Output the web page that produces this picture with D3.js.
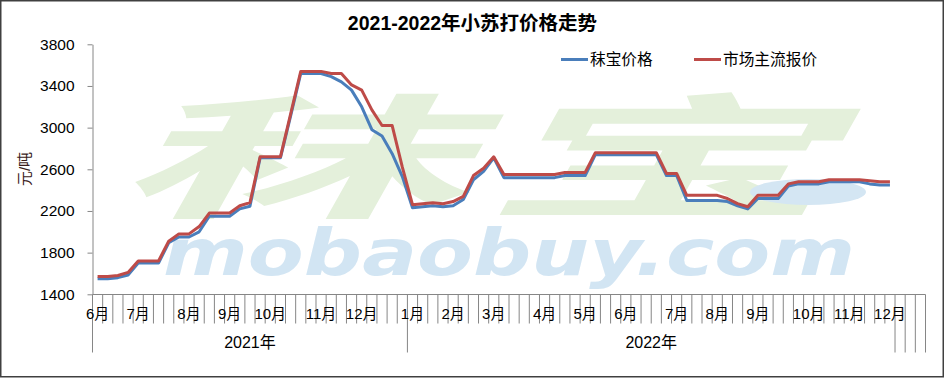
<!DOCTYPE html>
<html>
<head>
<meta charset="utf-8">
<script src="https://cdn.jsdelivr.net/npm/d3@7"></script>
<style>
	body { margin: 0; background: #fff; }
	svg text { font-family: "Liberation Sans", Arial, "Noto Sans CJK SC", sans-serif; }
</style>
</head>
<body>
<svg id="chart" width="946" height="378"></svg>
<script>
// Chart data
const chartTitle = '2021-2022年小苏打价格走势';
const yTitle = '元/吨';
const seriesNames = ['秣宝价格', '市场主流报价'];
const years = ['2021年', '2022年'];
const months2021 = ['6月', '7月', '8月', '9月', '10月', '11月', '12月'];
const weeks2021 = [4, 5, 4, 4, 5, 4, 5];
const months2022 = ['1月', '2月', '3月', '4月', '5月', '6月', '7月', '8月', '9月', '10月', '11月', '12月'];
const weeks2022 = [4, 4, 5, 4, 4, 5, 4, 4, 5, 4, 4, 1];
const blankSlots = 3;
const yTicks = [1400, 1800, 2200, 2600, 3000, 3400, 3800];

const mobaoPrice = [
	1550, 1550, 1560, 1585, 1700, 1700, 1700, 1895, 1950, 1950, 2000, 2150, 2150, 2150, 2220, 2245,
	2710, 2710, 2710, 3110, 3520, 3520, 3520, 3490, 3440, 3360, 3200, 2980, 2920, 2750, 2530,
	2230, 2240, 2250, 2240, 2250, 2310, 2500, 2580, 2710, 2520, 2520, 2520, 2520, 2520, 2520,
	2540, 2540, 2540, 2740, 2740, 2740, 2740, 2740, 2740, 2740, 2540, 2540, 2300, 2300, 2300, 2300,
	2290, 2250, 2220, 2320, 2320, 2320, 2440, 2460, 2460, 2460, 2480, 2480, 2480, 2480, 2460, 2450, 2450
];
const marketPrice = [
	1570, 1570, 1580, 1610, 1720, 1720, 1720, 1910, 1980, 1980, 2050, 2180, 2180, 2180, 2250, 2280,
	2720, 2720, 2720, 3130, 3540, 3540, 3540, 3520, 3520, 3410, 3360, 3170, 3020, 3020, 2620,
	2260, 2270, 2280, 2270, 2290, 2340, 2540, 2610, 2720, 2550, 2550, 2550, 2550, 2550, 2550,
	2570, 2570, 2570, 2760, 2760, 2760, 2760, 2760, 2760, 2760, 2560, 2560, 2350, 2350, 2350, 2350,
	2320, 2270, 2240, 2350, 2350, 2350, 2460, 2480, 2480, 2480, 2500, 2500, 2500, 2500, 2490, 2480, 2480
];

// Build the category list (one slot per week)
const categories = [];
const addYear = function(yearIndex, months, weeks) {
	months.forEach((m, mi) => {
		for (let w = 0; w < weeks[mi]; w++) {
			categories.push({ 'year': yearIndex, 'label': w === 0 ? m : '' });
		}
	});
};
addYear(0, months2021, weeks2021);
addYear(1, months2022, weeks2022);
for (let i = 0; i < blankSlots; i++) {
	categories.push({ 'year': null, 'label': '' });
}

const svg = d3.select('#chart');
const axisColor = '#868686';

// Scales
const x = d3.scaleBand()
	.domain(d3.range(categories.length))
	.range([92.5, 925.5])
	.padding(0);
const y = d3.scaleLinear()
	.domain([1400, 3800])
	.range([294.3, 44.3]);
const cx = i => x(i) + x.bandwidth() / 2;

// Watermark
const wm = svg.append('g').attr('class', 'watermark');
wm.append('text')
	.attr('transform', 'translate(114,207) scale(2.6,0.98) skewX(-12)')
	.style('font-family', '"Noto Sans CJK SC", sans-serif')
	.style('font-weight', 700)
	.style('font-size', '136px')
	.style('letter-spacing', '4px')
	.style('fill', '#e4f0db')
	.text('秣宝');
wm.append('ellipse')
	.attr('cx', 808)
	.attr('cy', 192)
	.attr('rx', 58)
	.attr('ry', 13)
	.style('fill', '#d4e6f3');
wm.append('text')
	.attr('x', 163)
	.attr('y', 275)
	.attr('textLength', 692)
	.attr('lengthAdjust', 'spacingAndGlyphs')
	.style('font-family', '"DejaVu Sans", sans-serif')
	.style('font-weight', 700)
	.style('font-style', 'italic')
	.style('font-size', '64px')
	.style('fill', '#d2e5f3')
	.text('mobaobuy.com');

// Outer border
svg.append('rect')
	.attr('x', 0.75)
	.attr('y', 0.75)
	.attr('width', 942.5)
	.attr('height', 376)
	.style('fill', 'none')
	.style('stroke', '#404040')
	.style('stroke-width', 1.5);

// Title
svg.append('text')
	.attr('x', 472.5)
	.attr('y', 29.5)
	.attr('text-anchor', 'middle')
	.style('font-weight', 'bold')
	.style('font-size', '19.5px')
	.style('fill', '#000')
	.text(chartTitle);

// Y axis
const yAxis = svg.append('g')
	.attr('transform', 'translate(92.5,0)')
	.call(d3.axisLeft(y).tickValues(yTicks).tickSize(5).tickSizeOuter(0).tickPadding(13).tickFormat(d3.format('d')));
yAxis.select('.domain').style('stroke', axisColor);
yAxis.selectAll('.tick line').style('stroke', axisColor);
yAxis.selectAll('.tick text')
	.style('font-family', '"Liberation Sans", Arial, sans-serif')
	.style('font-size', '15.5px')
	.style('fill', '#000');

svg.append('text')
	.attr('transform', 'translate(30,169) rotate(-90)')
	.attr('text-anchor', 'middle')
	.style('font-size', '15px')
	.style('fill', '#3a1c1c')
	.text(yTitle);

// X axis (two-level category axis)
const xAxis = svg.append('g').attr('class', 'x-axis');
const axisY = 294.5;
xAxis.append('line')
	.attr('x1', x.range()[0]).attr('x2', x.range()[1])
	.attr('y1', axisY).attr('y2', axisY)
	.style('stroke', axisColor);

const boundaries = d3.range(categories.length + 1);
const isYearEdge = function(b) {
	if (b === 0 || b === categories.length) return true;
	const prev = categories[b - 1], next = categories[b];
	return prev.year === null || next.year === null || prev.year !== next.year;
};
xAxis.selectAll('line.tick')
	.data(boundaries)
	.join('line')
	.attr('class', 'tick')
	.attr('x1', b => b < categories.length ? x(b) : x.range()[1])
	.attr('x2', b => b < categories.length ? x(b) : x.range()[1])
	.attr('y1', axisY)
	.attr('y2', b => isYearEdge(b) ? 352.5 : 323.5)
	.style('stroke', axisColor);

xAxis.selectAll('text.month')
	.data(categories.map((c, i) => ({ 'label': c.label, 'i': i })).filter(d => d.label !== ''))
	.join('text')
	.attr('class', 'month')
	.attr('x', d => cx(d.i))
	.attr('y', 318.5)
	.attr('text-anchor', 'middle')
	.style('font-size', '15px')
	.style('fill', '#000')
	.text(d => d.label);

xAxis.selectAll('text.year')
	.data(years.map((yr, yi) => {
		const idx = categories.map((c, i) => c.year === yi ? i : -1).filter(i => i >= 0);
		return { 'label': yr, 'x0': x(idx[0]), 'x1': x(idx[idx.length - 1]) + x.bandwidth() };
	}))
	.join('text')
	.attr('class', 'year')
	.attr('x', d => (d.x0 + d.x1) / 2)
	.attr('y', 347.5)
	.attr('text-anchor', 'middle')
	.style('font-size', '16px')
	.style('fill', '#000')
	.text(d => d.label);

// Lines
const line = d3.line()
	.x((d, i) => cx(i))
	.y(d => y(d));
const colors = ['#4a7ebb', '#be4b48'];
[mobaoPrice, marketPrice].forEach((series, si) => {
	svg.append('path')
		.datum(series)
		.attr('d', line)
		.style('fill', 'none')
		.style('stroke', colors[si])
		.style('stroke-width', 3)
		.style('stroke-linejoin', 'round');
});

// Legend
const legendItems = [
	{ 'name': seriesNames[0], 'color': colors[0], 'x': 561 },
	{ 'name': seriesNames[1], 'color': colors[1], 'x': 694 }
];
const legend = svg.selectAll('g.legend')
	.data(legendItems)
	.join('g')
	.attr('class', 'legend')
	.attr('transform', d => 'translate(' + d.x + ',59.5)');
legend.append('line')
	.attr('x1', 0).attr('x2', 27)
	.attr('y1', 0).attr('y2', 0)
	.style('stroke', d => d.color)
	.style('stroke-width', 3);
legend.append('text')
	.attr('x', 29)
	.attr('y', 5.5)
	.style('font-size', '15.7px')
	.style('fill', '#000')
	.text(d => d.name);
</script>
</body>
</html>
